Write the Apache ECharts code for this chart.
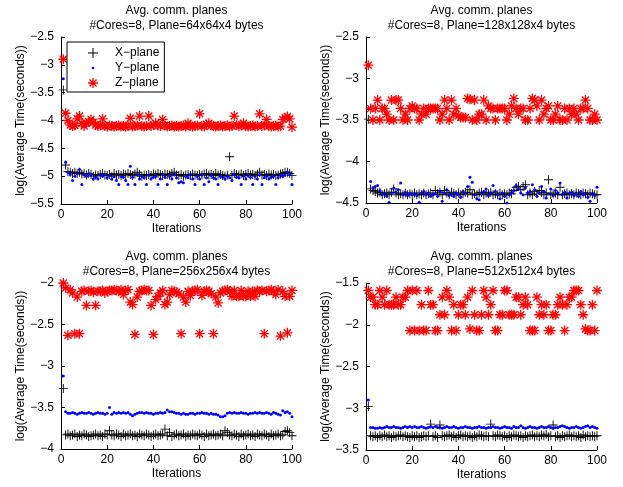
<!DOCTYPE html>
<html>
<head>
<meta charset="utf-8">
<script src="https://cdn.jsdelivr.net/npm/echarts@6/dist/echarts.min.js"></script>
<style>html,body{margin:0;padding:0;background:#fff}#c{width:623px;height:487px}</style>
</head>
<body>
<div id="c"></div>
<script>
// ---- data ----
const seriesNames = ['X-plane', 'Y-plane', 'Z-plane'];
const xTicks = [0, 20, 40, 60, 80, 100];
const titles = [
  'Avg. comm. planes\n#Cores=8, Plane=64x64x4 bytes',
  'Avg. comm. planes\n#Cores=8, Plane=128x128x4 bytes',
  'Avg. comm. planes\n#Cores=8, Plane=256x256x4 bytes',
  'Avg. comm. planes\n#Cores=8, Plane=512x512x4 bytes'
];
const yRanges = [[-5.5, -2.5], [-4.5, -2.5], [-4, -2], [-3.5, -1.5]];

const x64 = [-3.45,-4.80,-4.92,-4.93,-4.95,-4.93,-4.95,-4.93,-4.96,-4.95,
-4.98,-4.95,-4.97,-5.00,-4.98,-4.99,-4.97,-4.95,-4.98,-4.99,
-4.97,-5.00,-4.95,-4.98,-4.97,-4.99,-4.96,-4.98,-4.95,-4.97,
-4.99,-4.96,-4.93,-4.97,-5.00,-4.98,-4.99,-4.97,-4.99,-4.96,
-4.98,-4.95,-4.97,-4.99,-4.96,-4.97,-4.98,-4.95,-4.93,-4.98,
-4.99,-4.97,-5.00,-4.98,-4.97,-4.99,-4.96,-4.98,-4.99,-4.97,
-4.98,-4.96,-4.95,-4.98,-4.97,-4.99,-4.95,-4.98,-4.97,-4.99,
-5.00,-4.98,-4.65,-4.99,-4.95,-4.97,-4.98,-4.96,-4.99,-4.97,
-4.95,-4.98,-4.97,-4.99,-4.96,-4.93,-4.98,-4.97,-4.99,-4.96,
-4.98,-4.97,-4.99,-4.98,-4.96,-4.95,-4.93,-4.93,-4.95,-4.99];
const y64 = [-3.25,-4.75,-4.93,-4.97,-5.08,-5.00,-4.95,-4.88,-5.15,-4.97,
-5.00,-4.95,-4.98,-5.05,-5.02,-5.05,-4.98,-5.00,-4.97,-5.03,
-4.99,-5.05,-5.01,-5.08,-5.15,-5.00,-5.02,-5.08,-5.15,-4.82,
-5.02,-5.15,-4.98,-5.05,-5.00,-5.03,-5.15,-4.99,-5.05,-5.02,
-5.00,-5.15,-5.05,-4.97,-5.02,-5.15,-5.00,-5.05,-4.97,-5.03,
-5.12,-5.10,-5.12,-5.00,-5.03,-4.98,-5.05,-5.15,-5.00,-5.05,
-4.98,-5.15,-5.03,-5.10,-4.99,-5.03,-5.05,-5.15,-5.00,-5.02,
-5.05,-5.00,-5.03,-5.08,-4.97,-5.02,-5.03,-5.15,-5.00,-5.05,
-4.99,-5.02,-5.15,-5.00,-5.05,-4.98,-5.15,-5.03,-5.00,-5.05,
-5.02,-5.00,-5.15,-5.03,-4.99,-5.00,-4.98,-4.93,-4.97,-5.15];
const z64 = [-2.90,-3.87,-4.00,-4.08,-4.10,-4.09,-3.97,-3.92,-4.05,-4.10,
-4.05,-4.02,-3.98,-4.03,-4.08,-4.10,-4.09,-3.97,-4.10,-4.11,
-4.09,-4.10,-4.11,-4.10,-4.09,-4.11,-4.10,-4.11,-4.10,-3.96,
-4.11,-4.10,-4.09,-3.92,-4.10,-4.11,-4.10,-3.92,-4.10,-4.08,
-4.05,-4.09,-4.10,-3.98,-4.09,-4.11,-4.10,-4.09,-4.11,-4.10,
-4.11,-4.10,-4.09,-4.11,-4.05,-4.10,-4.11,-4.10,-4.09,-3.88,
-4.10,-4.11,-4.07,-4.05,-4.09,-4.10,-4.11,-4.10,-4.09,-4.11,
-4.10,-4.09,-4.11,-4.10,-3.92,-4.08,-4.10,-4.09,-4.05,-4.10,
-4.11,-4.10,-4.09,-4.11,-4.10,-3.88,-4.10,-4.09,-3.98,-4.10,
-4.11,-4.10,-4.09,-4.11,-4.10,-3.98,-3.95,-3.93,-3.97,-4.12];

const x128 = [-3.49,-4.33,-4.35,-4.36,-4.38,-4.37,-4.40,-4.39,-4.38,-4.40,
-4.37,-4.33,-4.38,-4.40,-4.39,-4.40,-4.38,-4.40,-4.39,-4.40,
-4.38,-4.40,-4.39,-4.40,-4.38,-4.40,-4.39,-4.38,-4.40,-4.35,
-4.39,-4.37,-4.40,-4.35,-4.38,-4.40,-4.37,-4.39,-4.40,-4.38,
-4.40,-4.39,-4.37,-4.38,-4.34,-4.40,-4.39,-4.40,-4.38,-4.37,
-4.40,-4.38,-4.39,-4.37,-4.40,-4.39,-4.40,-4.38,-4.40,-4.39,
-4.40,-4.38,-4.39,-4.35,-4.31,-4.30,-4.34,-4.30,-4.28,-4.40,
-4.38,-4.40,-4.36,-4.39,-4.35,-4.37,-4.40,-4.38,-4.22,-4.40,
-4.39,-4.38,-4.40,-4.31,-4.40,-4.39,-4.38,-4.40,-4.39,-4.40,
-4.38,-4.39,-4.40,-4.38,-4.39,-4.40,-4.38,-4.39,-4.40,-4.40];
const y128 = [-3.36,-4.24,-4.32,-4.30,-4.29,-4.35,-4.40,-4.38,-4.42,-4.49,
-4.38,-4.32,-4.37,-4.34,-4.26,-4.40,-4.37,-4.41,-4.38,-4.40,
-4.39,-4.41,-4.49,-4.38,-4.36,-4.40,-4.38,-4.42,-4.40,-4.39,
-4.42,-4.36,-4.48,-4.38,-4.34,-4.41,-4.39,-4.42,-4.38,-4.40,
-4.43,-4.36,-4.39,-4.30,-4.19,-4.25,-4.40,-4.45,-4.46,-4.39,
-4.36,-4.33,-4.41,-4.38,-4.29,-4.36,-4.40,-4.45,-4.38,-4.42,
-4.50,-4.40,-4.37,-4.35,-4.29,-4.33,-4.38,-4.40,-4.32,-4.38,
-4.36,-4.28,-4.34,-4.42,-4.38,-4.30,-4.36,-4.44,-4.39,-4.33,
-4.41,-4.35,-4.38,-4.26,-4.40,-4.37,-4.44,-4.39,-4.37,-4.41,
-4.38,-4.42,-4.36,-4.40,-4.38,-4.43,-4.48,-4.39,-4.41,-4.31];
const z128 = [-2.84,-3.36,-3.50,-3.36,-3.26,-3.50,-3.36,-3.36,-3.43,-3.50,
-3.26,-3.50,-3.26,-3.26,-3.36,-3.50,-3.43,-3.50,-3.36,-3.33,
-3.36,-3.36,-3.50,-3.43,-3.36,-3.43,-3.36,-3.36,-3.36,-3.36,
-3.36,-3.50,-3.43,-3.26,-3.36,-3.50,-3.26,-3.43,-3.36,-3.45,
-3.47,-3.47,-3.47,-3.24,-3.25,-3.50,-3.26,-3.50,-3.43,-3.43,
-3.26,-3.50,-3.33,-3.36,-3.36,-3.50,-3.36,-3.36,-3.36,-3.36,
-3.50,-3.43,-3.33,-3.24,-3.36,-3.43,-3.36,-3.36,-3.50,-3.50,
-3.36,-3.24,-3.26,-3.33,-3.50,-3.26,-3.43,-3.36,-3.33,-3.50,
-3.50,-3.43,-3.33,-3.50,-3.50,-3.36,-3.50,-3.36,-3.43,-3.36,
-3.43,-3.50,-3.36,-3.36,-3.26,-3.36,-3.50,-3.50,-3.43,-3.50];

const x256 = [-3.27,-3.83,-3.82,-3.84,-3.83,-3.82,-3.85,-3.83,-3.84,-3.82,
-3.83,-3.85,-3.84,-3.83,-3.82,-3.84,-3.83,-3.85,-3.82,-3.83,
-3.78,-3.83,-3.84,-3.82,-3.83,-3.85,-3.82,-3.84,-3.83,-3.82,
-3.84,-3.83,-3.85,-3.82,-3.83,-3.84,-3.82,-3.83,-3.85,-3.83,
-3.82,-3.84,-3.83,-3.82,-3.76,-3.84,-3.80,-3.85,-3.83,-3.82,
-3.84,-3.83,-3.82,-3.85,-3.83,-3.84,-3.82,-3.83,-3.84,-3.82,
-3.83,-3.85,-3.82,-3.84,-3.83,-3.82,-3.84,-3.83,-3.82,-3.84,
-3.78,-3.80,-3.83,-3.84,-3.82,-3.83,-3.85,-3.82,-3.84,-3.83,
-3.82,-3.84,-3.83,-3.85,-3.82,-3.83,-3.84,-3.82,-3.83,-3.85,
-3.82,-3.84,-3.83,-3.82,-3.84,-3.83,-3.79,-3.78,-3.80,-3.84];
const y256 = [-3.12,-3.55,-3.57,-3.57,-3.56,-3.57,-3.58,-3.57,-3.56,-3.57,
-3.57,-3.56,-3.57,-3.58,-3.57,-3.56,-3.57,-3.57,-3.58,-3.57,
-3.50,-3.58,-3.56,-3.57,-3.56,-3.57,-3.56,-3.57,-3.56,-3.58,
-3.60,-3.58,-3.57,-3.56,-3.56,-3.57,-3.56,-3.57,-3.57,-3.58,
-3.57,-3.57,-3.56,-3.57,-3.56,-3.53,-3.55,-3.55,-3.56,-3.57,
-3.57,-3.58,-3.57,-3.58,-3.58,-3.57,-3.57,-3.58,-3.57,-3.57,
-3.56,-3.57,-3.57,-3.58,-3.57,-3.58,-3.58,-3.59,-3.61,-3.61,
-3.60,-3.57,-3.56,-3.57,-3.56,-3.57,-3.57,-3.56,-3.57,-3.57,
-3.58,-3.57,-3.57,-3.56,-3.57,-3.56,-3.57,-3.57,-3.56,-3.57,
-3.58,-3.56,-3.57,-3.58,-3.59,-3.54,-3.56,-3.55,-3.57,-3.61];
const z256 = [-2.00,-2.06,-2.63,-2.08,-2.12,-2.61,-2.17,-2.61,-2.10,-2.09,
-2.27,-2.10,-2.09,-2.11,-2.27,-2.10,-2.10,-2.09,-2.12,-2.10,
-2.09,-2.09,-2.08,-2.09,-2.10,-2.08,-2.14,-2.09,-2.08,-2.23,
-2.26,-2.62,-2.17,-2.10,-2.09,-2.08,-2.09,-2.09,-2.27,-2.62,
-2.20,-2.16,-2.12,-2.09,-2.26,-2.23,-2.14,-2.09,-2.10,-2.11,
-2.13,-2.61,-2.17,-2.23,-2.10,-2.15,-2.10,-2.09,-2.08,-2.61,
-2.15,-2.10,-2.09,-2.10,-2.13,-2.61,-2.17,-2.24,-2.12,-2.10,
-2.09,-2.08,-2.10,-2.16,-2.09,-2.16,-2.16,-2.09,-2.16,-2.16,
-2.10,-2.16,-2.10,-2.16,-2.09,-2.10,-2.09,-2.61,-2.10,-2.09,
-2.08,-2.10,-2.14,-2.08,-2.64,-2.10,-2.16,-2.60,-2.16,-2.09];

const x512 = [-2.98,-3.33,-3.34,-3.33,-3.35,-3.33,-3.34,-3.32,-3.34,-3.33,
-3.35,-3.33,-3.34,-3.33,-3.32,-3.34,-3.33,-3.34,-3.35,-3.33,
-3.34,-3.33,-3.35,-3.34,-3.33,-3.34,-3.33,-3.19,-3.34,-3.33,
-3.35,-3.20,-3.33,-3.34,-3.33,-3.32,-3.34,-3.33,-3.35,-3.33,
-3.32,-3.34,-3.33,-3.34,-3.33,-3.35,-3.33,-3.34,-3.32,-3.33,
-3.34,-3.33,-3.34,-3.19,-3.33,-3.34,-3.32,-3.33,-3.34,-3.33,
-3.35,-3.33,-3.34,-3.32,-3.33,-3.34,-3.33,-3.35,-3.33,-3.34,
-3.33,-3.32,-3.34,-3.33,-3.34,-3.32,-3.33,-3.31,-3.34,-3.33,
-3.20,-3.34,-3.33,-3.35,-3.33,-3.34,-3.33,-3.32,-3.34,-3.33,
-3.34,-3.33,-3.35,-3.32,-3.34,-3.33,-3.34,-3.33,-3.34,-3.33];
const y512 = [-2.90,-3.23,-3.23,-3.24,-3.24,-3.23,-3.24,-3.23,-3.22,-3.23,
-3.23,-3.22,-3.23,-3.23,-3.24,-3.23,-3.22,-3.23,-3.22,-3.23,
-3.22,-3.23,-3.23,-3.22,-3.23,-3.24,-3.23,-3.22,-3.23,-3.22,
-3.23,-3.23,-3.24,-3.23,-3.22,-3.23,-3.23,-3.22,-3.23,-3.24,
-3.23,-3.23,-3.22,-3.23,-3.23,-3.24,-3.23,-3.23,-3.22,-3.23,
-3.23,-3.24,-3.23,-3.23,-3.22,-3.23,-3.23,-3.24,-3.23,-3.22,
-3.23,-3.23,-3.24,-3.22,-3.23,-3.23,-3.21,-3.23,-3.24,-3.23,
-3.22,-3.23,-3.23,-3.24,-3.23,-3.22,-3.23,-3.23,-3.22,-3.23,
-3.24,-3.23,-3.23,-3.22,-3.21,-3.22,-3.23,-3.24,-3.23,-3.23,
-3.22,-3.23,-3.24,-3.23,-3.22,-3.21,-3.23,-3.22,-3.23,-3.24];
const z512 = [-1.59,-1.67,-1.67,-1.76,-1.76,-1.59,-1.67,-1.76,-1.59,-1.76,
-1.76,-1.76,-1.67,-1.76,-1.76,-1.67,-1.67,-1.59,-2.07,-1.59,
-2.07,-1.59,-2.07,-1.76,-2.07,-2.07,-1.59,-1.76,-1.76,-2.07,
-2.07,-1.88,-1.67,-1.88,-1.59,-1.67,-2.07,-1.76,-2.07,-1.88,
-1.76,-1.76,-1.88,-1.67,-2.05,-1.59,-1.88,-2.07,-2.07,-1.88,
-1.59,-1.67,-1.88,-1.76,-1.59,-2.07,-2.07,-1.88,-1.88,-1.59,
-1.59,-1.88,-1.88,-1.88,-1.67,-1.67,-1.88,-1.76,-1.67,-1.76,
-2.07,-2.07,-2.07,-1.67,-1.88,-1.76,-1.88,-1.76,-2.07,-2.07,
-1.88,-1.88,-1.76,-1.67,-1.76,-2.07,-1.76,-1.67,-1.67,-1.59,
-1.59,-1.59,-1.76,-1.88,-2.05,-2.07,-2.07,-1.76,-2.07,-1.59];

const panelData = [[x64, y64, z64], [x128, y128, z128], [x256, y256, z256], [x512, y512, z512]];

// ---- styling / layout ----
const FONT = 'Liberation Sans';
const CROSS = 'path://M-0.1,-1L0.1,-1L0.1,-0.1L1,-0.1L1,0.1L0.1,0.1L0.1,1L-0.1,1L-0.1,0.1L-1,0.1L-1,-0.1L-0.1,-0.1Z';
const STAR = 'path://M-0.13,-1L0.13,-1L0.13,1L-0.13,1Z M-1,-0.13L1,-0.13L1,0.13L-1,0.13Z M0.61,-0.8L0.8,-0.61L-0.61,0.8L-0.8,0.61Z M-0.8,-0.61L-0.61,-0.8L0.8,0.61L0.61,0.8Z';
const DOT_ICON = 'path://M-5,-5L-5,-5M5,5L5,5M-0.5,-1.2L0.5,-1.2L1.2,-0.5L1.2,0.5L0.5,1.2L-0.5,1.2L-1.2,0.5L-1.2,-0.5Z';
const grids = [
  {left: 61, top: 37, width: 231, height: 167},
  {left: 366, top: 37, width: 231, height: 166},
  {left: 61, top: 283, width: 231, height: 166},
  {left: 366, top: 283, width: 231, height: 167}
];
const minus = v => String(v).replace('-', '\u2212');
const marks = [
  {symbol: CROSS, symbolSize: 9, color: '#000000'},
  {symbol: 'circle', symbolSize: 3, color: '#0000ff'},
  {symbol: STAR, symbolSize: 10, color: '#ff0000'}
];

const option = {
  backgroundColor: '#ffffff',
  animation: false,
  textStyle: {fontFamily: FONT, fontSize: 12},
  title: titles.map((t, k) => ({
    text: t,
    left: grids[k].left + grids[k].width / 2,
    top: grids[k].top - 34,
    textAlign: 'center',
    padding: 0,
    textStyle: {fontSize: 12, fontWeight: 'normal', color: '#000', lineHeight: 15, fontFamily: FONT}
  })),
  legend: {
    left: 67, top: 42, orient: 'vertical',
    padding: [4, 5, 2, 21],
    itemWidth: 10, itemHeight: 10, itemGap: 1,
    borderColor: '#000', borderWidth: 1, backgroundColor: '#fff',
    textStyle: {fontSize: 12, color: '#000', fontFamily: FONT, padding: [0, 0, 0, 12], lineHeight: 14},
    formatter: n => n.replace('-', '\u2212'),
    data: [
      {name: 'X-plane', icon: CROSS},
      {name: 'Y-plane', icon: DOT_ICON},
      {name: 'Z-plane', icon: STAR}
    ]
  },
  grid: grids,
  xAxis: grids.map((g, k) => ({
    type: 'value', gridIndex: k, min: xTicks[0], max: xTicks[xTicks.length - 1], interval: 20,
    name: 'Iterations', nameLocation: 'middle', nameGap: 19,
    nameTextStyle: {fontSize: 12, color: '#000', fontFamily: FONT},
    axisLine: {show: true, onZero: false, lineStyle: {color: '#000', width: 1}},
    axisTick: {show: true, inside: true, length: 4, lineStyle: {color: '#000'}},
    axisLabel: {fontSize: 12, color: '#000', margin: 5, fontFamily: FONT},
    splitLine: {show: false}
  })),
  yAxis: grids.map((g, k) => ({
    type: 'value', gridIndex: k, min: yRanges[k][0], max: yRanges[k][1], interval: 0.5,
    name: 'log(Average Time(seconds))', nameLocation: 'middle', nameGap: 34,
    nameTextStyle: {fontSize: 12, color: '#000', fontFamily: FONT},
    axisLine: {show: true, onZero: false, lineStyle: {color: '#000', width: 1}},
    axisTick: {show: true, inside: true, length: 4, lineStyle: {color: '#000'}},
    axisLabel: {fontSize: 12, color: '#000', margin: 7, formatter: minus, fontFamily: FONT},
    splitLine: {show: false}
  })),
  series: []
};

panelData.forEach((arrs, k) => {
  arrs.forEach((vals, s) => {
    option.series.push({
      type: 'scatter',
      name: seriesNames[s],
      xAxisIndex: k, yAxisIndex: k,
      symbol: marks[s].symbol,
      symbolSize: marks[s].symbolSize,
      itemStyle: {color: marks[s].color, opacity: 1},
      emphasis: {disabled: true},
      data: vals.map((v, i) => [i + 1, v])
    });
  });
});

const chart = echarts.init(document.getElementById('c'), null, {renderer: 'canvas'});
chart.setOption(option);
</script>
</body>
</html>
